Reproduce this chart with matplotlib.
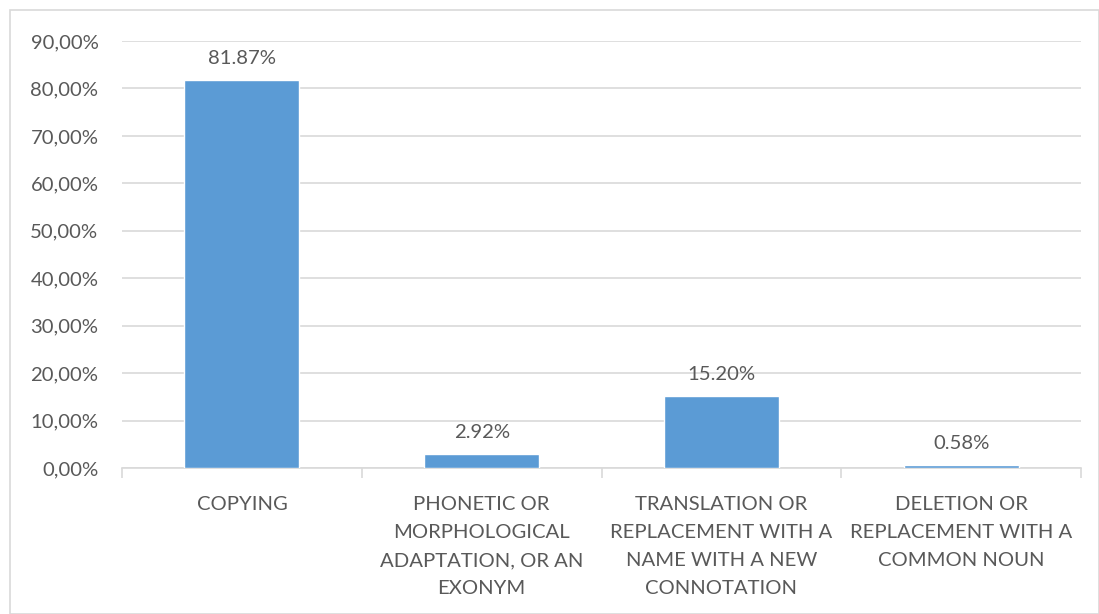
import matplotlib
matplotlib.use("Agg")
import matplotlib.pyplot as plt
from matplotlib.patches import Rectangle

categories = ["COPYING",
              "PHONETIC OR\nMORPHOLOGICAL\nADAPTATION, OR AN\nEXONYM",
              "TRANSLATION OR\nREPLACEMENT WITH A\nNAME WITH A NEW\nCONNOTATION",
              "DELETION OR\nREPLACEMENT WITH A\nCOMMON NOUN"]
values = [81.87, 2.92, 15.20, 0.58]
value_labels = ["81.87%", "2.92%", "15.20%", "0.58%"]
yticks = [0, 10, 20, 30, 40, 50, 60, 70, 80, 90]

plt.rcParams['font.family'] = ['Lato', 'DejaVu Sans']
TXT = '#595959'
GRID = '#D9D9D9'
BAR = '#5B9BD5'
FS = 14.6

fig = plt.figure(figsize=(10.99, 6.14), dpi=100)
fig.patches.append(Rectangle((10/1099, 0), 1 - 10/1099 - 0.5/1099, 1 - 10/614,
                             transform=fig.transFigure, fill=False,
                             edgecolor=GRID, linewidth=1.2))
ax = fig.add_axes([122/1099, 1 - 468/614, (1081-122)/1099, (468-41)/614])

x = list(range(len(categories)))
ax.bar(x, values, width=0.48, color=BAR, edgecolor='white', linewidth=1.0, zorder=3)
for xi, v, lab in zip(x, values, value_labels):
    ax.annotate(lab, (xi, v), xytext=(0, 13), textcoords='offset pixels',
                ha='center', va='bottom', fontsize=FS, color=TXT)

ax.set_xlim(-0.5, len(categories) - 0.5)
ax.set_ylim(0, 90)
ax.set_yticks(yticks)
ax.set_yticklabels([("%.2f%%" % t).replace('.', ',') for t in yticks], fontsize=FS, color=TXT)
ax.yaxis.grid(True, color=GRID, linewidth=1.2, zorder=0)
ax.set_axisbelow(True)
ax.tick_params(axis='y', length=0, pad=17)

ax.set_xticks(x)
ax.set_xticklabels(categories, fontsize=FS, color=TXT, linespacing=1.8)
ax.tick_params(axis='x', length=0, pad=20)
ax.set_xticks([i - 0.5 for i in range(len(categories) + 1)], minor=True)
ax.tick_params(axis='x', which='minor', length=7, color=GRID, width=1.2)

for s in ['top', 'right', 'left']:
    ax.spines[s].set_visible(False)
ax.spines['bottom'].set_color(GRID)
ax.spines['bottom'].set_linewidth(1.2)

fig.savefig('out.png', dpi=100)
